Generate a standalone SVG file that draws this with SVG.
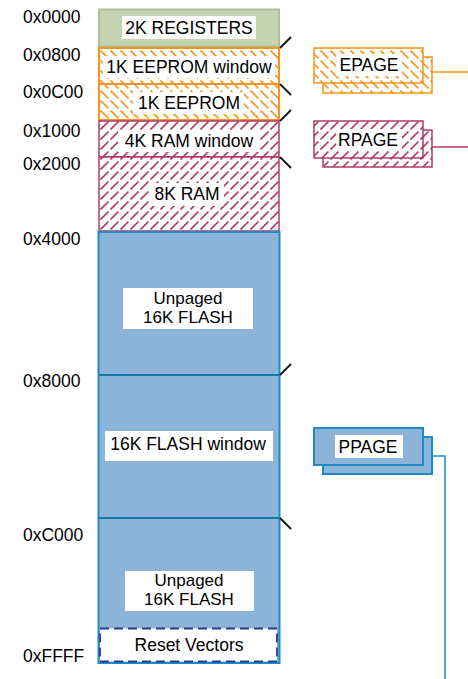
<svg xmlns="http://www.w3.org/2000/svg" width="468" height="679" viewBox="0 0 468 679">
<style>
text{font-family:"Liberation Sans",Arial,sans-serif;font-size:17.5px;fill:#000;}
.lbl{text-anchor:start;}
.c{text-anchor:middle;}
.two{font-size:17px;}
.wb{fill:#fff;stroke:none;}
.tick{stroke:#111;stroke-width:1.8;fill:none;}
</style>
<defs>
<pattern id="hatchO" width="10" height="10" patternUnits="userSpaceOnUse">
<rect width="10" height="10" fill="#fff"/>
<line x1="0.5" y1="0.5" x2="8.5" y2="8.5" stroke="#f7941d" stroke-width="1.7"/>
</pattern>
<pattern id="hatchM" width="10" height="10" patternUnits="userSpaceOnUse">
<rect width="10" height="10" fill="#fff"/>
<line x1="0.5" y1="9.5" x2="8.5" y2="1.5" stroke="#b03a68" stroke-width="1.7"/>
</pattern>
</defs>
<rect width="468" height="679" fill="#fff"/>

<g id="addresses">
<text class="lbl" x="23" y="23">0x0000</text>
<text class="lbl" x="23" y="61">0x0800</text>
<text class="lbl" x="23" y="98">0x0C00</text>
<text class="lbl" x="23" y="137">0x1000</text>
<text class="lbl" x="23" y="170">0x2000</text>
<text class="lbl" x="23" y="245">0x4000</text>
<text class="lbl" x="23" y="387">0x8000</text>
<text class="lbl" x="23" y="541">0xC000</text>
<text class="lbl" x="23" y="662">0xFFFF</text>
</g>

<g id="registers">
<rect x="99" y="9.5" width="180" height="37" fill="#c4d3b0" stroke="#aebf96" stroke-width="2"/>
<rect class="wb" x="122" y="16" width="134" height="23"/>
<text class="c" x="189" y="34">2K REGISTERS</text>
</g>

<g id="eeprom-window">
<rect x="99" y="48" width="180" height="36" fill="url(#hatchO)" stroke="#f7941d" stroke-width="2"/>
<rect class="wb" x="103" y="56" width="172" height="22"/>
<text class="c" x="189" y="73">1K EEPROM window</text>
</g>

<g id="eeprom">
<rect x="99" y="84" width="180" height="36" fill="url(#hatchO)" stroke="#f7941d" stroke-width="2"/>
<rect class="wb" x="133" y="92" width="111" height="22"/>
<text class="c" x="189" y="109">1K EEPROM</text>
</g>

<g id="ram-window">
<rect x="99" y="121" width="180" height="36" fill="url(#hatchM)" stroke="#b03a68" stroke-width="1.5"/>
<rect class="wb" x="118" y="130" width="142" height="22"/>
<text class="c" x="189" y="147">4K RAM window</text>
</g>

<g id="ram">
<rect x="99" y="157" width="180" height="74" fill="url(#hatchM)" stroke="#b03a68" stroke-width="1.5"/>
<rect class="wb" x="150" y="183" width="74" height="23"/>
<text class="c" x="187" y="200">8K RAM</text>
</g>

<g id="flash">
<rect x="98.5" y="232" width="181" height="431" fill="#8cb4d8" stroke="#1c8dc2" stroke-width="2"/>
</g>

<g id="flash-unpaged-low">
<rect class="wb" x="123" y="288" width="130" height="41"/>
<text class="c two" x="188" y="304">Unpaged</text>
<text class="c two" x="188" y="323">16K FLASH</text>
</g>

<g id="flash-window">
<rect class="wb" x="105" y="431" width="168" height="30"/>
<text class="c" x="188" y="450">16K FLASH window</text>
</g>

<g id="flash-unpaged-high">
<rect class="wb" x="125" y="571" width="129" height="40"/>
<text class="c two" x="189" y="586">Unpaged</text>
<text class="c two" x="189" y="605">16K FLASH</text>
</g>

<g id="reset-vectors">
<rect x="100" y="628.5" width="177" height="33" fill="#fff" stroke="#2b3990" stroke-width="1.8" stroke-dasharray="9 5"/>
<text class="c" x="189" y="651">Reset Vectors</text>
</g>

<g id="epage">
<rect x="323" y="57" width="109" height="36" fill="url(#hatchO)" stroke="#f7941d" stroke-width="1.5"/>
<rect x="314" y="48" width="109" height="35" fill="url(#hatchO)" stroke="#f7941d" stroke-width="1.5"/>
<rect class="wb" x="336" y="54" width="66" height="22"/>
<text class="c" x="369" y="71">EPAGE</text>
</g>

<g id="rpage">
<rect x="323" y="130" width="109" height="37" fill="url(#hatchM)" stroke="#b03a68" stroke-width="1.5"/>
<rect x="314" y="121" width="109" height="37" fill="url(#hatchM)" stroke="#b03a68" stroke-width="1.5"/>
<rect class="wb" x="336" y="129" width="66" height="22"/>
<text class="c" x="368" y="146">RPAGE</text>
</g>

<g id="ppage">
<rect x="323" y="437" width="109" height="37" fill="#8cb4d8" stroke="#1c8dc2" stroke-width="2"/>
<rect x="314" y="428" width="109" height="37" fill="#8cb4d8" stroke="#1c8dc2" stroke-width="2"/>
<rect class="wb" x="335" y="435" width="68" height="23"/>
<text class="c" x="368" y="453">PPAGE</text>
</g>

<g id="connectors">
<line x1="99" y1="375" x2="279" y2="375" stroke="#1479a8" stroke-width="2"/>
<line x1="99" y1="518" x2="279" y2="518" stroke="#1479a8" stroke-width="2"/>
<line x1="432" y1="72" x2="468" y2="72" stroke="#f7941d" stroke-width="1.5"/>
<line x1="432" y1="147" x2="468" y2="147" stroke="#b03a68" stroke-width="1.5"/>
<polyline points="432,456 445,456 445,679" fill="none" stroke="#1c8dc2" stroke-width="1.5"/>
<line class="tick" x1="280" y1="48" x2="291" y2="37"/>
<line class="tick" x1="280" y1="84" x2="291" y2="95"/>
<line class="tick" x1="280" y1="121" x2="291" y2="110"/>
<line class="tick" x1="280" y1="157" x2="291" y2="168"/>
<line class="tick" x1="280" y1="375" x2="291" y2="364"/>
<line class="tick" x1="280" y1="518" x2="291" y2="529"/>
</g>
</svg>
